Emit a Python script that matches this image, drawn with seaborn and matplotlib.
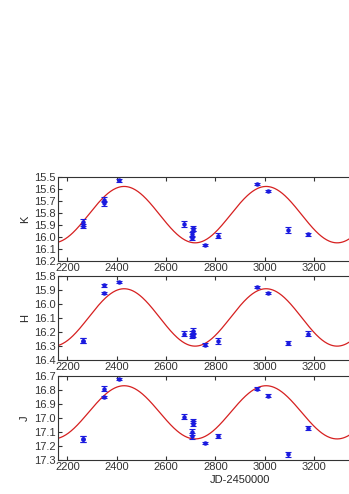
import numpy as np
import pandas as pd
import seaborn as sns
import matplotlib.pyplot as plt

# Observation epochs (JD-2450000)
jd = [2263, 2263, 2348, 2348, 2409, 2672, 2706, 2706, 2710, 2710,
      2756, 2810, 2968, 3014, 3095, 3176]

# Magnitudes and errors per band
k_mag = [15.88, 15.91, 15.69, 15.72, 15.53, 15.89, 16.01, 15.98, 15.93, 15.94,
         16.07, 15.99, 15.56, 15.62, 15.94, 15.98]
k_err = [0.03, 0.02, 0.02, 0.02, 0.01, 0.025, 0.02, 0.02, 0.02, 0.015,
         0.01, 0.02, 0.01, 0.01, 0.025, 0.015]
h_mag = [16.26, 16.26, 15.865, 15.92, 15.84, 16.21, 16.23, 16.21, 16.19, 16.22,
         16.29, 16.265, 15.88, 15.92, 16.28, 16.21]
h_err = [0.015, 0.015, 0.01, 0.01, 0.008, 0.015, 0.015, 0.015, 0.02, 0.015,
         0.01, 0.02, 0.008, 0.01, 0.015, 0.02]
j_mag = [17.15, 17.15, 16.79, 16.85, 16.72, 16.99, 17.13, 17.10, 17.02, 17.04,
         17.18, 17.13, 16.79, 16.84, 17.26, 17.07]
j_err = [0.02, 0.02, 0.015, 0.01, 0.008, 0.02, 0.02, 0.02, 0.015, 0.015,
         0.008, 0.015, 0.01, 0.01, 0.02, 0.015]

# Sinusoidal fit parameters: mean, semi-amplitude
period = 575.0
t_bright = 2430.0
k_fit = (15.815, 0.235)
h_fit = (16.095, 0.205)
j_fit = (16.96, 0.19)

bands = [
    ("K", k_mag, k_err, k_fit, (16.2, 15.5), [15.5, 15.6, 15.7, 15.8, 15.9, 16.0, 16.1, 16.2]),
    ("H", h_mag, h_err, h_fit, (16.4, 15.8), [15.8, 15.9, 16.0, 16.1, 16.2, 16.3, 16.4]),
    ("J", j_mag, j_err, j_fit, (17.3, 16.7), [16.7, 16.8, 16.9, 17.0, 17.1, 17.2, 17.3]),
]

sns.set_style("ticks")
plt.rcParams["font.family"] = ["Liberation Sans", "DejaVu Sans"]

fig = plt.figure(figsize=(3.49, 4.94), dpi=100)
tops = [0.642, 0.441, 0.239]
height = 0.170
t = np.linspace(2150, 3700, 600)

for (name, mag, err, fit, ylim, yticks), top in zip(bands, tops):
    ax = fig.add_axes([0.166, top - height, 1.043, height])
    mean, amp = fit
    model = pd.DataFrame({"jd": t, "mag": mean - amp * np.cos(2 * np.pi * (t - t_bright) / period)})
    sns.lineplot(data=model, x="jd", y="mag", color="#d62020", lw=0.9, ax=ax)
    ax.errorbar(jd, mag, yerr=err, fmt="o", ms=2.2, color="#1a1adf",
                ecolor="#1a1adf", elinewidth=0.9, capsize=2.2, capthick=0.8)
    ax.set_xlim(2162, 3636)
    ax.set_ylim(*ylim)
    ax.set_yticks(yticks)
    ax.set_xticks([2200, 2400, 2600, 2800, 3000, 3200])
    ax.tick_params(direction="in", length=3, labelsize=8, pad=1.5,
                   top=True, right=True, colors="#333333")
    for s in ax.spines.values():
        s.set_color("#333333")
        s.set_linewidth(0.8)
    ax.set_ylabel(name, fontsize=8, labelpad=3)
    ax.set_xlabel("")

ax.set_xlabel("JD-2450000", fontsize=8, labelpad=2)

fig.savefig("out.png", dpi=100)
